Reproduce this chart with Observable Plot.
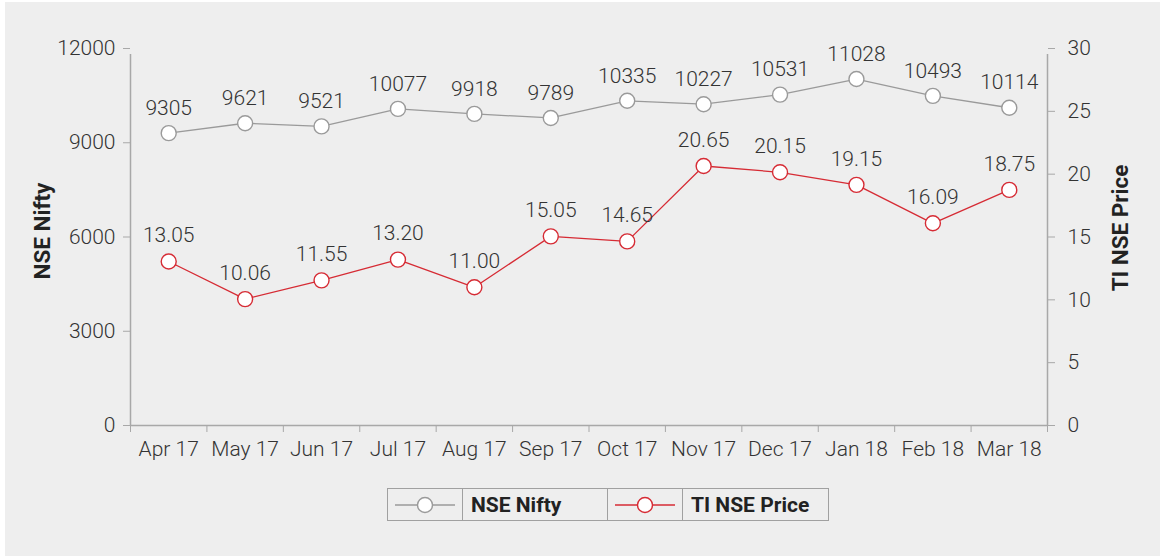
<!DOCTYPE html>
<html><head><meta charset="utf-8">
<script src="https://cdn.jsdelivr.net/npm/d3@7"></script>
<script src="https://cdn.jsdelivr.net/npm/@observablehq/plot@0.6"></script>
<style>
html,body{margin:0;padding:0;background:#fff;font-family:Roboto,sans-serif;}
#bg{position:absolute;left:5px;top:2px;width:1155px;height:554px;background:#eeeeee;}
#chart{position:absolute;left:0;top:0;}
#chart svg{display:block;}
#chart text{font-size:21px;font-weight:300;}
#chart g.axis-title text{font-weight:bold;fill:#222;font-size:22.5px;}
#legend{position:absolute;left:387px;top:488px;border-collapse:collapse;font-family:Roboto,sans-serif;}
#legend td{border:1px solid #a0a0a0;height:31px;padding:0;}
#legend td.sym{width:74px;text-align:center;}
#legend td.lab{font-weight:bold;font-size:21px;color:#222;padding-left:8px;box-sizing:border-box;}
#legend svg{display:block;margin:0 auto;}
</style>
</head><body>
<div id="bg"></div>
<div id="chart"></div>
<table id="legend"><tr>
<td class="sym" id="sym1"></td><td class="lab" style="width:145px">NSE Nifty</td>
<td class="sym" id="sym2"></td><td class="lab" style="width:146px">TI NSE Price</td>
</tr></table>
<script>
const months = ["Apr 17","May 17","Jun 17","Jul 17","Aug 17","Sep 17","Oct 17","Nov 17","Dec 17","Jan 18","Feb 18","Mar 18"];
const nifty = [9305,9621,9521,10077,9918,9789,10335,10227,10531,11028,10493,10114];
const tiPrice = [13.05,10.06,11.55,13.20,11.00,15.05,14.65,20.65,20.15,19.15,16.09,18.75];
const leftTicks = [0,3000,6000,9000,12000];
const rightTicks = [0,5,10,15,20,25,30];
const seriesNames = ["NSE Nifty","TI NSE Price"];
const colors = ["#9a9a9a","#d62b34"];

const ratio = 12000 / 30;
const data = months.map((m, i) => ({
  m, pos: i + 0.5,
  nifty: nifty[i],
  ti: tiPrice[i] * ratio,
  tiLabel: tiPrice[i].toFixed(2)
}));

const axisColor = "#a8a8a8";
const chart = Plot.plot({
  width: 1160, height: 470,
  marginLeft: 130, marginRight: 113, marginTop: 48, marginBottom: 45,
  style: {background: "transparent", fontFamily: "Roboto, sans-serif", fontSize: "21px", color: "#333", overflow: "visible"},
  x: {type: "linear", domain: [0, months.length]},
  y: {domain: [0, 12000]},
  marks: [
    Plot.axisX({ticks: d3.range(months.length + 1), tickFormat: () => "", tickSize: 7, stroke: axisColor, strokeOpacity: 1, label: null}),
    Plot.axisX({ticks: data.map(d => d.pos), tickFormat: d => months[Math.floor(d)], tickSize: 0, tickPadding: 16, fill: "#333", label: null}),
    Plot.ruleY([0], {stroke: axisColor, strokeWidth: 1.5}),
    Plot.axisY({ticks: leftTicks, tickFormat: d3.format("d"), tickSize: 7, tickPadding: 8, stroke: axisColor, strokeOpacity: 1, fill: "#333", label: null}),
    Plot.axisY({anchor: "right", ticks: rightTicks.map(v => v * ratio), tickFormat: d => String(d / ratio), tickSize: 7, tickPadding: 13,
      stroke: axisColor, strokeOpacity: 1, fill: "#333", label: null}),
    Plot.text([seriesNames[0]], {frameAnchor: "left", textAnchor: "middle", rotate: -90, dx: -88, dy: -6, text: d => d, className: "axis-title"}),
    Plot.text([seriesNames[1]], {frameAnchor: "right", textAnchor: "middle", rotate: -90, dx: 73, dy: -9, text: d => d, className: "axis-title"}),
    Plot.ruleX([0], {y1: 0, y2: 12000, stroke: axisColor, strokeWidth: 1.5, insetBottom: -6}),
    Plot.ruleX([months.length], {y1: 0, y2: 12000, stroke: axisColor, strokeWidth: 1.5, insetBottom: -6}),
    Plot.line(data, {x: "pos", y: "nifty", stroke: colors[0], strokeWidth: 1.3}),
    Plot.dot(data, {x: "pos", y: "nifty", r: 7.5, fill: "white", stroke: colors[0], strokeWidth: 1.4}),
    Plot.text(data, {x: "pos", y: "nifty", text: d => String(d.nifty), dy: -25, fill: "#333"}),
    Plot.line(data, {x: "pos", y: "ti", stroke: colors[1], strokeWidth: 1.3}),
    Plot.dot(data, {x: "pos", y: "ti", r: 7.5, fill: "white", stroke: colors[1], strokeWidth: 1.4}),
    Plot.text(data, {x: "pos", y: "ti", text: "tiLabel", dy: -26, fill: "#333"})
  ]
});
document.getElementById("chart").appendChild(chart);

function legendSymbol(color) {
  const ns = "http://www.w3.org/2000/svg";
  const svg = document.createElementNS(ns, "svg");
  svg.setAttribute("width", 64); svg.setAttribute("height", 20);
  const l = document.createElementNS(ns, "line");
  l.setAttribute("x1", 2); l.setAttribute("x2", 62); l.setAttribute("y1", 10); l.setAttribute("y2", 10);
  l.setAttribute("stroke", color); l.setAttribute("stroke-width", 1.3);
  const c = document.createElementNS(ns, "circle");
  c.setAttribute("cx", 32); c.setAttribute("cy", 10); c.setAttribute("r", 7.5);
  c.setAttribute("fill", "white"); c.setAttribute("stroke", color); c.setAttribute("stroke-width", 1.4);
  svg.appendChild(l); svg.appendChild(c);
  return svg;
}
document.getElementById("sym1").appendChild(legendSymbol(colors[0]));
document.getElementById("sym2").appendChild(legendSymbol(colors[1]));
</script>
</body></html>
